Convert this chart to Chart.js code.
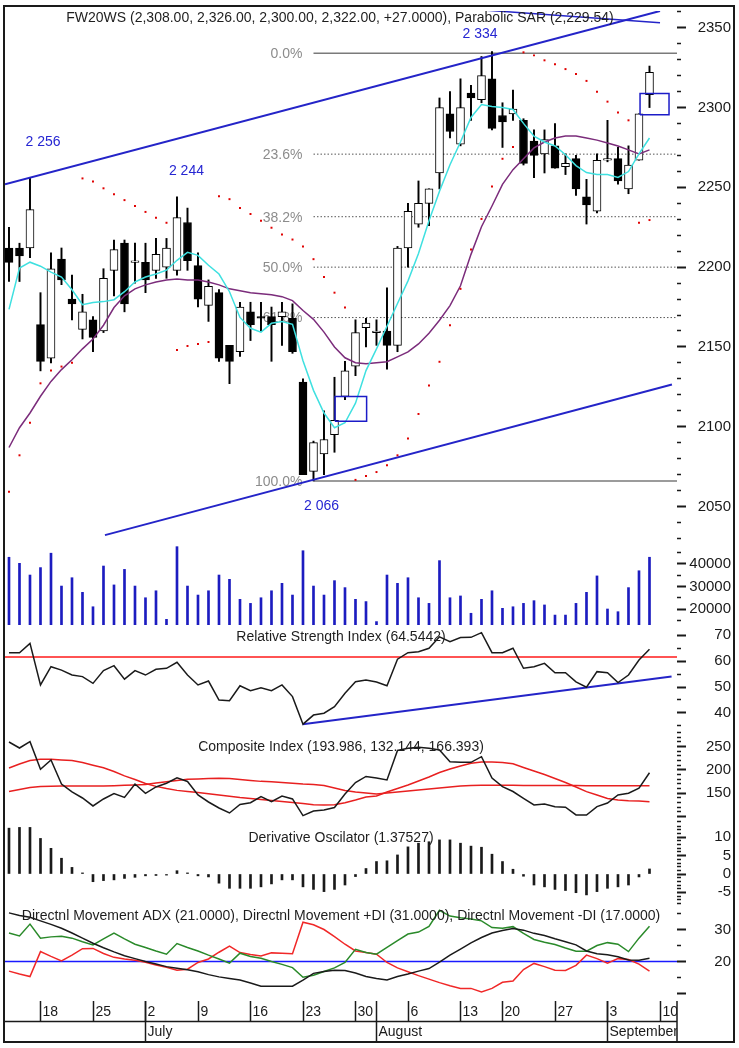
<!DOCTYPE html>
<html lang="pl">
<head>
  <meta charset="UTF-8">
  <title>FW20WS</title>
  <script src="https://cdn.jsdelivr.net/npm/chart.js"></script>
  <style>
    body { margin: 0; background: #fff; }
    canvas { position: absolute; left: 0; }
    #frame { position: absolute; left: 3px; top: 5px; width: 732px; height: 1038px; border: 2px solid #1a1a1a; box-sizing: border-box; pointer-events: none; }
  </style>
</head>
<body>
  <canvas id="cMain" width="739" height="538" style="top:7px"></canvas>
  <canvas id="cVol" width="739" height="80" style="top:545px"></canvas>
  <canvas id="cRsi" width="739" height="105" style="top:625px"></canvas>
  <canvas id="cComp" width="739" height="95" style="top:730px"></canvas>
  <canvas id="cDer" width="739" height="80" style="top:825px"></canvas>
  <canvas id="cDmi" width="739" height="137" style="top:905px"></canvas>
  <div id="frame"></div>

  <script>
    // ---- data (one entry per trading day, 13 Jun - 7 Sep) ----
    const opens  = [2212,2212,2212,2164,2143,2205,2180,2161,2167,2160,2198,2215,2203,2203,2198,2200,2198,2228,2201,2176,2184,2151,2147,2172,2169,2169,2169,2168,2128,2072,2083,2095,2119,2138,2162,2159,2160,2151,2212,2227,2240,2259,2296,2277,2309,2305,2318,2295,2296,2292,2279,2271,2276,2263,2268,2244,2235,2267,2268,2249,2267,2308];
    const highs  = [2225,2215,2256,2184,2209,2212,2195,2183,2169,2199,2217,2217,2215,2215,2218,2218,2244,2237,2209,2192,2186,2151,2178,2178,2178,2175,2178,2177,2130,2091,2110,2131,2141,2167,2168,2167,2187,2213,2240,2254,2249,2306,2310,2318,2314,2332,2335,2303,2311,2293,2286,2286,2290,2271,2270,2255,2271,2292,2275,2276,2296,2326];
    const lows   = [2191,2191,2206,2135,2140,2189,2167,2155,2147,2159,2182,2172,2190,2184,2193,2193,2195,2198,2175,2166,2141,2127,2144,2154,2160,2141,2151,2146,2070,2066,2070,2084,2117,2132,2150,2151,2136,2147,2200,2225,2226,2249,2281,2276,2292,2303,2286,2275,2292,2264,2256,2259,2262,2258,2245,2227,2234,2266,2252,2246,2267,2300];
    const closes = [2203,2207,2236,2141,2199,2192,2177,2172,2156,2193,2211,2177,2204,2192,2208,2212,2231,2204,2180,2188,2143,2141,2175,2164,2168,2164,2172,2147,2070,2090,2092,2104,2135,2159,2165,2160,2151,2212,2235,2240,2249,2300,2285,2300,2306,2320,2287,2291,2299,2265,2270,2280,2262,2265,2249,2239,2267,2268,2254,2264,2296,2322];
    const sar    = [2059.3,2082.1,2102.5,2127.2,2135.2,2137.7,2140.1,2255.6,2253.7,2249.4,2245.7,2242,2238.3,2234.6,2230.9,2227.8,2148.1,2150.6,2151.9,2153.1,2244.4,2242.6,2237,2233.3,2229,2224.7,2220.4,2217.3,2213,2205,2193.8,2184,2174.7,2066.7,2069.1,2071.6,2075.9,2082.1,2092.6,2108,2125.9,2140.7,2163.6,2186.4,2211.1,2230.2,2250.6,2267.9,2275.3,2334.6,2332.7,2329.6,2327.2,2324.1,2321,2316.7,2309.9,2303.7,2296.9,2292,2227.8,2229.5];
    const maFast = [2173.5,2199.4,2203.1,2200.6,2196.9,2193.8,2185.8,2176.5,2177.8,2178.4,2179.6,2184.6,2190.7,2193.8,2195.7,2198.1,2204.3,2209.3,2207.4,2201.2,2195.7,2184.6,2168.5,2161.7,2159.3,2164.8,2166,2164.2,2141.4,2122.8,2108.6,2099.4,2102.5,2114.8,2135.2,2148.8,2163,2177.2,2191.4,2208.6,2229,2247.5,2264.2,2278.4,2293.8,2301.9,2300.6,2300,2298.8,2290.1,2282.1,2278.4,2275.9,2270.4,2263.6,2259.3,2258,2258,2256.2,2259.9,2271,2280.9];
    const maSlow = [2087,2099.4,2108.6,2119.1,2128.4,2135.8,2142,2148.8,2154.9,2163.6,2174.7,2182,2186.4,2188.9,2190.7,2192,2192.6,2192,2192,2190.7,2188.9,2186.4,2185.2,2184,2183.3,2182.7,2181.5,2179,2172.8,2167.3,2159.3,2150,2143.2,2140.1,2139.5,2140.1,2140.7,2143.8,2146.9,2151.9,2158.6,2166.7,2175.9,2188.3,2208,2225.3,2238.3,2251.9,2261.1,2267.9,2274.7,2278.4,2280.9,2282.1,2282.1,2280.9,2279.6,2277.8,2275.9,2273.5,2271,2273.5];
    const volume = [43000,40300,35100,38400,44800,30200,33900,27400,21000,39100,30700,37600,30200,25000,28100,15400,47700,30200,26200,28100,35100,33200,24300,22500,25000,28100,31400,26200,45900,30200,26200,32600,29500,24300,23300,14400,35100,31400,33900,25000,22500,41500,25000,25800,18100,24300,28100,20300,21000,22500,23700,21800,17300,17300,22500,27400,34700,20000,18800,29500,37000,43000];
    const rsi    = [63.2,63.2,66.8,50.8,57.8,56.5,54.6,54,51.4,56.3,58.2,53,56.3,54.6,56.8,57.2,59.5,54.6,50.8,52.3,45,44.7,50.5,48.6,49.7,48.6,50.8,46.3,35.7,39.2,39.9,42.4,47.6,52,52.7,51.9,50.5,60.7,63.2,63.6,64.9,69.3,67.4,69,69.1,70.9,63.2,63.2,64.9,57.2,57.8,59.1,55.5,55.5,52,49.9,55.9,55.5,51.7,54.6,60.4,64.54];
    const comp   = [260,247.1,260.6,201.5,221.4,170,152.9,140,122.9,137.9,149.6,141.1,170,150.1,163.6,171.5,183.3,175.4,146.4,131.4,118.6,107.9,126.1,129.9,142.8,132.1,144.3,137.9,102.1,112.1,114.3,119.6,148.6,173.2,186.1,182.9,178.6,241.8,246.5,248.6,246.5,242.9,217.8,216.5,216.5,228.5,182.9,164.2,153.9,139.4,125,127.1,121.4,120.1,103.6,103.6,121.4,129.3,146.4,150.1,160.8,193.986];
    const compFast = [204.3,212.9,220.4,222.9,222.9,221.4,220.1,216.1,210.3,204.7,196.8,187.4,179.6,171.1,164.9,160.1,156.3,153.9,151.8,149,146.4,143.9,140.9,138.9,136.8,134.6,132.3,130.1,128,125.6,125,125.4,129.9,135.7,142.1,144.3,152.9,160.4,167.9,176.4,185,194.6,202.1,208.6,214.6,217.1,217.1,216.3,213.3,205.4,197.9,190.4,181.8,173.2,163.6,153.7,146.4,139.1,135.7,134.2,133.6,132.144];
    const compSlow = [153.9,158.2,162.5,164.4,165.3,165.7,165.7,165.7,165.7,165.7,166.4,167.2,167.9,168.9,172.1,174.7,177.5,180.1,180.7,181.6,182.2,181.6,179.6,177.5,175.6,174.7,173.2,171.7,170,168.9,166.8,161.4,156.1,152.9,150.7,148.6,150.7,152.9,155,157.1,159.3,161.4,163.6,165.7,166.8,167.2,167.4,167.4,167.2,167,166.8,166.7,166.6,166.5,166.5,166.4,166.4,166.4,166.4,166.4,166.4,166.393];
    const deriv  = [12.5,12.7,12.7,9.7,7,4.3,1.8,0.3,-2.1,-1.8,-1.6,-1.2,-0.9,-0.5,-0.4,-0.3,0.9,0.3,-0.5,-0.8,-2.5,-3.9,-3.9,-3.9,-3.5,-2.7,-1.6,-1.6,-3.5,-4.2,-4.8,-4.2,-3,-0.7,1.5,3.4,3.6,5.2,7.4,8.4,8.8,9.3,9.3,8.4,7.6,7.3,5.4,3.4,1.3,-0.6,-3,-3.5,-4.2,-4.5,-5.1,-5.7,-4.8,-3.9,-3.5,-3,-0.8,1.375];
    const adx    = [35.2,34.4,33.8,32.7,31.6,30.4,28.9,27.3,25.7,24.3,23,21.8,20.9,20,19.2,18.4,17.9,17.4,16.8,15.9,15.2,14.7,14.2,13.3,12.3,12.3,12.3,12.3,14.2,16.3,16.9,17.3,17.2,16.4,15.3,14.7,14.2,15.3,16.1,17,17.8,19.8,22,23.9,25.8,27.5,28.9,29.7,30.3,29.8,28.8,28.1,27.1,26.2,25.2,23.3,22.4,22.1,21.5,20.5,20.4,21];
    const plusDI = [28.9,28,31.7,27.3,27.7,27.9,27.3,26.2,25.2,27.1,28.9,27.1,25.4,24.4,23.3,22.3,25.6,24.4,23.3,22,20.8,19.5,22.6,21.6,21,20,19.1,18.1,15.1,15.7,16.9,18,19.7,23.8,22.8,22.3,24.4,26.5,28.6,29.2,31,36,34.2,33.7,33.3,32.7,30.6,30.4,30.9,28.8,26.9,26,25.3,24.2,23.2,23.2,25,25.9,25.4,23.1,27.3,31];
    const minusDI = [17,16.1,15.3,23.1,21.6,20.2,22,24,24.1,22.5,21.3,20.8,20.4,19.8,18.9,18.2,17.3,17.6,19.7,20.8,22.9,24.8,22.8,22.2,21.7,22.7,22.6,22.4,32.3,31.5,30,27.8,25.4,23.3,22.8,22.3,19.7,18,16.8,15.6,14.5,13.4,12.4,11.6,11.6,10.5,11.6,13.5,13.9,17.5,19.4,18.4,17.3,17.2,18.8,22,20.9,19.5,20.9,20.6,19.2,17];

    const fibNames  = ['0.0%', '23.6%', '38.2%', '50.0%', '61.8%', '100.0%'];
    const fibLevels = [2334, 2270.8, 2231.6, 2200, 2168.4, 2066];
    const peakTexts = ['2 256', '2 244', '2 334', '2 066'];
    const peakAt    = [[3.24, 2278.4], [16.9, 2259.9], [44.86, 2346.3], [29.76, 2050]];
    const upperTrend = [[-0.38, 2251.9], [62, 2360.5]];
    const lowerTrend = [[9.14, 2032.1], [63.14, 2126.5]];
    const topLine    = [[40, 2363.6], [62, 2353.1]];
    const boxes      = [[31.05, 34.06, 2103.5, 2119], [60.1, 62.86, 2295.5, 2308.8]];
    const rsiLevel = 61.5;
    const rsiTrend = [[27.97, 35.7], [63.1, 54.0]];
    const dmiLevel = 20;

    const priceLabels = [2050, 2100, 2150, 2200, 2250, 2300, 2350];
    const volLabels   = [20000, 30000, 40000];
    const rsiLabels   = [40, 50, 60, 70];
    const compLabels  = [150, 200, 250];
    const derivLabels = [-5, 0, 5, 10];
    const dmiLabels   = [20, 30];

    const dayTicks  = [3, 8, 13, 18, 23, 28, 33, 38, 43, 47, 52, 57, 62];
    const dayLabels = ['18', '25', '2', '9', '16', '23', '30', '6', '13', '20', '27', '3', '10'];
    const monthTicks  = [13, 35, 57];
    const monthLabels = ['July', 'August', 'September'];

    // ---- layout ----
    const FONT = '"Liberation Sans", Arial, sans-serif';
    const X_MIN = -0.38, X_MAX = 63.62;
    const LEFT = 5, PLOT_RIGHT = 677, LABEL_RIGHT = 731, TICK_LEN = 9;
    const FIB_START = 29;

    const pts = arr => arr.map((v, i) => ({x: i, y: v}));
    const seg = p => p.map(q => ({x: q[0], y: q[1]}));

    // right-hand value axis; crossAlign 'far' puts the label's right edge on the axis' right edge
    function yScale(min, max, step, labels, majorStep) {
      const vals = [];
      for (let k = Math.ceil(min / step); k <= Math.floor(max / step); k++) vals.push(+(k * step).toFixed(4));
      const major = v => Math.abs(v / majorStep - Math.round(v / majorStep)) < 1e-6;
      return {
        position: 'right', min, max,
        afterBuildTicks: s => { s.ticks = vals.map(v => ({value: v})); },
        afterFit: s => { s.width = LABEL_RIGHT - PLOT_RIGHT; s.paddingTop = 0; s.paddingBottom = 0; },
        border: {display: false},
        grid: {
          drawOnChartArea: false, tickLength: TICK_LEN, tickColor: '#1a1a1a',
          tickWidth: c => (c.tick && major(c.tick.value)) ? 2 : 1.5,
          tickBorderDash: c => (c.tick && major(c.tick.value)) ? [] : [4, 30]
        },
        ticks: {
          autoSkip: false, crossAlign: 'far', color: '#1a1a1a',
          font: {family: FONT, size: 15},
          callback: v => labels.includes(v) ? String(v) : ''
        }
      };
    }

    function line(data, color, width, order, dash) {
      return {type: 'line', data, borderColor: color, borderWidth: width, borderDash: dash || [],
              pointRadius: 0, tension: 0, order};
    }

    function titlePlugin(text, y) {
      return {
        id: 'title' + y,
        afterDatasetsDraw(chart) {
          const c = chart.ctx;
          c.save();
          c.font = '14px ' + FONT; c.fillStyle = '#1e1e1e';
          c.textAlign = 'center'; c.textBaseline = 'middle';
          c.fillText(text, (LEFT + PLOT_RIGHT) / 2, y);
          c.restore();
        }
      };
    }

    function makeChart(id, datasets, y, plugins, padBottom) {
      return new Chart(document.getElementById(id), {
        type: 'line',
        data: {datasets},
        options: {
          responsive: false, animation: false, events: [], devicePixelRatio: 1,
          layout: {padding: {left: LEFT, right: 739 - LABEL_RIGHT, top: 0, bottom: padBottom || 0}},
          plugins: {legend: {display: false}, tooltip: {enabled: false}},
          scales: {
            x: {type: 'linear', min: X_MIN, max: X_MAX, display: false, offset: false, grid: {offset: false}},
            y
          }
        },
        plugins: plugins || []
      });
    }

    // ---- price panel ----
    const mainText = {
      id: 'mainText',
      beforeDatasetsDraw(chart) {
        const {ctx: c, scales: {x, y}} = chart;
        c.save();
        c.font = '14px ' + FONT; c.fillStyle = '#8c8c8c';
        c.textAlign = 'right'; c.textBaseline = 'middle';
        fibLevels.forEach((lv, k) => c.fillText(fibNames[k], x.getPixelForValue(FIB_START) - 11, y.getPixelForValue(lv) + 1));
        c.restore();
      },
      afterDatasetsDraw(chart) {
        const {ctx: c, scales: {x, y}} = chart;
        c.save();
        c.font = '14px ' + FONT; c.textBaseline = 'middle'; c.textAlign = 'center';
        c.fillStyle = '#1e1e1e';
        c.fillText('FW20WS (2,308.00, 2,326.00, 2,300.00, 2,322.00, +27.0000), Parabolic SAR (2,229.54)', 340, 11);
        c.fillStyle = '#2626d2';
        peakTexts.forEach((t, k) => c.fillText(t, x.getPixelForValue(peakAt[k][0]), y.getPixelForValue(peakAt[k][1])));
        c.restore();
      }
    };

    const mainSets = [
      {type: 'bar', data: highs.map((h, i) => ({x: i, y: [lows[i], h]})), backgroundColor: '#000',
       borderWidth: 0, barThickness: 1.3, grouped: false, order: 4},
      {type: 'bar', data: opens.map((o, i) => ({x: i, y: [o, closes[i]]})),
       backgroundColor: closes.map((c, i) => c >= opens[i] ? '#fff' : '#000'),
       borderColor: '#000', borderWidth: 1, borderSkipped: false, barThickness: 8, minBarLength: 1,
       grouped: false, order: 3},
      line(pts(maSlow), '#7b2c7b', 1.5, 2),
      line(pts(maFast), '#3fe0e0', 1.5, 1),
      {type: 'line', data: pts(sar), showLine: false, pointStyle: 'rect', pointRadius: 1.4,
       pointBackgroundColor: '#e00000', pointBorderWidth: 0, order: 0},
      line(seg(upperTrend), '#2424c8', 2, 0),
      line(seg(lowerTrend), '#2424c8', 2, 0),
      line(seg(topLine), '#2424c8', 1.5, 0)
    ];
    boxes.forEach(b => mainSets.push(line(seg([[b[0], b[2]], [b[1], b[2]], [b[1], b[3]], [b[0], b[3]], [b[0], b[2]]]), '#1c1cc8', 1.5, 0)));
    fibLevels.forEach((lv, k) => {
      const solid = k === 0 || k === fibLevels.length - 1;
      mainSets.push(line(seg([[FIB_START, lv], [X_MAX, lv]]), solid ? '#7a7a7a' : '#555', solid ? 1.5 : 1, 10, solid ? [] : [1.5, 2]));
    });
    makeChart('cMain', mainSets, yScale(2028.4, 2360.5, 10, priceLabels, 50), [mainText]);

    // ---- volume ----
    makeChart('cVol', [
      {type: 'bar', data: pts(volume), backgroundColor: '#1c1cc0', barThickness: 2, grouped: false}
    ], yScale(12889, 48444, 5000, volLabels, 10000));

    // ---- RSI ----
    makeChart('cRsi', [
      line(seg([[X_MIN, rsiLevel], [X_MAX, rsiLevel]]), '#ff1a1a', 1.5, 2),
      line(seg(rsiTrend), '#2424c8', 2, 1),
      line(pts(rsi), '#1a1a1a', 1.5, 0)
    ], yScale(33.46, 73.85, 5, rsiLabels, 10), [titlePlugin('Relative Strength Index (64.5442)', 12)]);

    // ---- Composite Index ----
    makeChart('cComp', [
      line(pts(compSlow), '#e82020', 1.5, 2),
      line(pts(compFast), '#e82020', 1.5, 1),
      line(pts(comp), '#1a1a1a', 1.5, 0)
    ], yScale(82.1, 285.7, 10, compLabels, 50), [titlePlugin('Composite Index (193.986, 132.144, 166.393)', 17)]);

    // ---- Derivative Oscillator ----
    makeChart('cDer', [
      {type: 'bar', data: pts(deriv), backgroundColor: '#1a1a1a', barThickness: 2, grouped: false}
    ], yScale(-8.45, 13.36, 1, derivLabels, 5), [titlePlugin('Derivative Oscilator (1.37527)', 13)]);

    // ---- DMI + date axis ----
    const dateAxis = {
      id: 'dateAxis',
      afterDraw(chart) {
        const {ctx: c, chartArea: a, scales: {x}} = chart;
        const top = a.bottom;
        const seg2 = (x1, y1, x2, y2) => { c.beginPath(); c.moveTo(x1, y1); c.lineTo(x2, y2); c.stroke(); };
        c.save();
        c.strokeStyle = '#1a1a1a'; c.lineWidth = 1.5;
        seg2(PLOT_RIGHT, top + 3, PLOT_RIGHT, top + 44);
        c.beginPath(); c.rect(LEFT, top, PLOT_RIGHT - LEFT, 44); c.clip();
        seg2(LEFT, top + 23.5, PLOT_RIGHT, top + 23.5);
        c.font = '14px ' + FONT; c.fillStyle = '#1a1a1a'; c.textBaseline = 'middle'; c.textAlign = 'left';
        dayTicks.forEach((d, k) => {
          const px = Math.round(x.getPixelForValue(d)) + 0.5;
          seg2(px, top + 3, px, top + 23);
          c.fillText(dayLabels[k], px + 2, top + 14);
        });
        monthTicks.forEach((m, k) => {
          const px = Math.round(x.getPixelForValue(m)) + 0.5;
          seg2(px, top + 3, px, top + 44);
          c.fillText(monthLabels[k], px + 2, top + 34);
        });
        c.restore();
      }
    };
    makeChart('cDmi', [
      line(seg([[X_MIN, dmiLevel], [X_MAX, dmiLevel]]), '#1a1aff', 1.5, 3),
      line(pts(minusDI), '#f02828', 1.5, 2),
      line(pts(plusDI), '#2a8a2a', 1.5, 1),
      line(pts(adx), '#1a1a1a', 1.5, 0)
    ], yScale(8.6, 37.66, 5, dmiLabels, 10),
      [titlePlugin('Directnl Movement ADX (21.0000), Directnl Movement +DI (31.0000), Directnl Movement -DI (17.0000)', 11), dateAxis], 44);
  </script>
</body>
</html>
